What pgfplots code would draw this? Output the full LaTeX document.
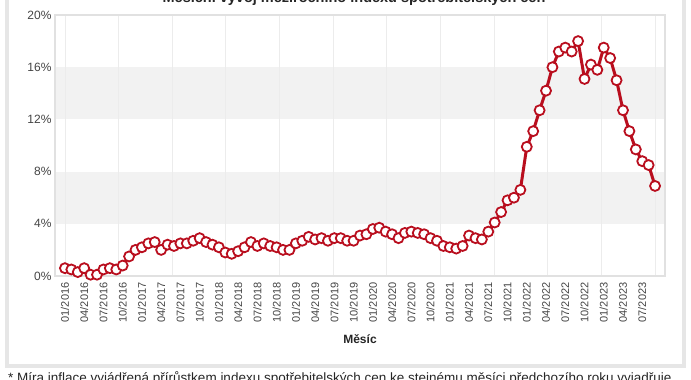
\documentclass[border=0pt]{standalone}
\usepackage{pgfplots}
\pgfplotsset{compat=1.18}
\usepackage{fontspec}
\setmainfont{Liberation Sans}
\definecolor{linered}{RGB}{185,14,30}
\definecolor{txt}{RGB}{68,68,68}
\definecolor{band}{RGB}{242,242,242}
\definecolor{gridc}{RGB}{236,236,236}
\definecolor{borderc}{RGB}{225,225,225}
\definecolor{framec}{RGB}{230,230,230}
\begin{document}
\begin{tikzpicture}
\draw[framec, line width=4pt] (7pt,420pt) -- (7pt,14pt) -- (683.5pt,14pt) -- (683.5pt,420pt);
\node[anchor=base, text=black!85, font=\bfseries\fontsize{14.5}{16}\selectfont] at (354pt,377pt) {Měsíční vývoj meziročního indexu spotřebitelských cen};
\node[anchor=base west, text=black!85, font=\fontsize{13.5}{15}\selectfont, inner sep=0pt] at (8pt,-3pt) {* Míra inflace vyjádřená přírůstkem indexu spotřebitelských cen ke stejnému měsíci předchozího roku vyjadřuje};
\begin{axis}[
  at={(55pt,104pt)}, anchor=south west, scale only axis,
  width=610pt, height=261pt,
  set layers, clip=false,
  xmin=-1.55, xmax=93.55, ymin=0, ymax=20,
  axis line style={draw=borderc, line width=1.5pt},
  major tick length=0pt,
  ytick={0,4,8,12,16,20},
  yticklabels={0\%,4\%,8\%,12\%,16\%,20\%},
  yticklabel style={text=txt, font=\fontsize{12}{14}\selectfont},
  xtick={0,3,...,90},
  xticklabels={01/2016,04/2016,07/2016,10/2016,01/2017,04/2017,07/2017,10/2017,01/2018,04/2018,07/2018,10/2018,01/2019,04/2019,07/2019,10/2019,01/2020,04/2020,07/2020,10/2020,01/2021,04/2021,07/2021,10/2021,01/2022,04/2022,07/2022,10/2022,01/2023,04/2023,07/2023},
  xticklabel style={rotate=90, anchor=east, text=txt, font=\fontsize{11}{13}\selectfont},
  xticklabel shift=3pt,
  extra x ticks={0,8.3636,16.7273,25.0909,33.4545,41.8182,50.1818,58.5455,66.9091,75.2727,83.6364,92},
  extra x tick labels={},
  extra x tick style={grid=major, major grid style={draw=gridc, line width=0.8pt}, major tick length=0pt},
]
\begin{pgfonlayer}{axis background}
\fill[band] (axis cs:-1.55,4) rectangle (axis cs:93.55,8);
\fill[band] (axis cs:-1.55,12) rectangle (axis cs:93.55,16);
\end{pgfonlayer}
\addplot[linered, line width=3pt, mark=*, mark size=5pt, mark options={fill=white, draw=linered, line width=1.8pt}] coordinates {
(0,0.6)(1,0.5)(2,0.3)(3,0.6)(4,0.1)(5,0.1)(6,0.5)(7,0.6)(8,0.5)(9,0.8)(10,1.5)(11,2.0)
(12,2.2)(13,2.5)(14,2.6)(15,2.0)(16,2.4)(17,2.3)(18,2.5)(19,2.5)(20,2.7)(21,2.9)(22,2.6)(23,2.4)
(24,2.2)(25,1.8)(26,1.7)(27,1.9)(28,2.2)(29,2.6)(30,2.3)(31,2.5)(32,2.3)(33,2.2)(34,2.0)(35,2.0)
(36,2.5)(37,2.7)(38,3.0)(39,2.8)(40,2.9)(41,2.7)(42,2.9)(43,2.9)(44,2.7)(45,2.7)(46,3.1)(47,3.2)
(48,3.6)(49,3.7)(50,3.4)(51,3.2)(52,2.9)(53,3.3)(54,3.4)(55,3.3)(56,3.2)(57,2.9)(58,2.7)(59,2.3)
(60,2.2)(61,2.1)(62,2.3)(63,3.1)(64,2.9)(65,2.8)(66,3.4)(67,4.1)(68,4.9)(69,5.8)(70,6.0)(71,6.6)
(72,9.9)(73,11.1)(74,12.7)(75,14.2)(76,16.0)(77,17.2)(78,17.5)(79,17.2)(80,18.0)(81,15.1)(82,16.2)(83,15.8)
(84,17.5)(85,16.7)(86,15.0)(87,12.7)(88,11.1)(89,9.7)(90,8.8)(91,8.5)(92,6.9)
};
\end{axis}
\node[anchor=base, text=black!85, font=\bfseries\fontsize{12}{14}\selectfont] at (360pt,36pt) {Měsíc};
\pgfresetboundingbox
\path[use as bounding box] (0pt,0pt) rectangle (691pt,380pt);
\end{tikzpicture}
\end{document}
